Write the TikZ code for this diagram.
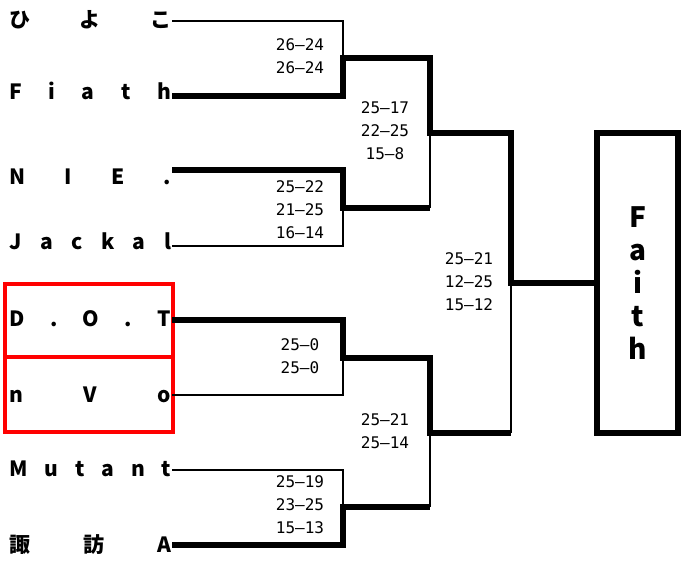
\documentclass[tikz,border=0pt]{standalone}
\usepackage{fontspec}
\newfontfamily\jpfont{Noto Sans CJK JP}
\newfontfamily\scorefont{DejaVu Sans Mono}
\tikzset{
 team/.style={inner sep=0pt, anchor=west, text height=15.4pt, text depth=0pt, font=\jpfont\bfseries\fontsize{21}{24}\selectfont},
 score/.style={inner sep=0pt, align=center, font=\scorefont\fontsize{16}{23}\selectfont},
 thinline/.style={line width=2.2pt},
 thickline/.style={line width=5.5pt},
 hl/.style={draw=red, line width=4pt},
 champbox/.style={draw, line width=6pt, minimum width=81pt, minimum height=300pt, inner sep=0pt, align=center, font=\jpfont\bfseries\fontsize{28}{33}\selectfont}
}
\begin{document}
\begin{tikzpicture}[x=1pt,y=-1pt]
\useasboundingbox (0,0) rectangle (681,562);
% highlight boxes
\draw[hl] (5,284) rectangle (173,357);
\draw[hl] (5,357) rectangle (173,432);
% teams
\node[team] (t1) at (9,20) {\makebox[162pt][s]{ひ\hfill よ\hfill こ}};
\node[team] (t2) at (9,92) {\makebox[162pt][s]{F\hfill i\hfill a\hfill t\hfill h}};
\node[team] (t3) at (9,177) {\makebox[162pt][s]{N\hfill I\hfill E\hfill .}};
\node[team] (t4) at (9,242) {\makebox[162pt][s]{J\hfill a\hfill c\hfill k\hfill a\hfill l}};
\node[team] (t5) at (9,319) {\makebox[162pt][s]{D\hfill .\hfill O\hfill .\hfill T}};
\node[team] (t6) at (9,395) {\makebox[162pt][s]{n\hfill V\hfill o}};
\node[team] (t7) at (9,469) {\makebox[162pt][s]{M\hfill u\hfill t\hfill a\hfill n\hfill t}};
\node[team] (t8) at (9,545) {\makebox[162pt][s]{諏\hfill 訪\hfill A}};
% junctions
\coordinate (j1) at (343,58);
\coordinate (j2) at (343,208);
\coordinate (j3) at (343,358);
\coordinate (j4) at (343,507);
\coordinate (s1) at (430,133);
\coordinate (s2) at (430,433);
\coordinate (f) at (511,283);
% champion
\node[champbox] (champ) at (637.5,283) {F\\a\\i\\t\\h};
% thin (losing) lines
\draw[thinline] ([xshift=1pt,yshift=-1pt]t1.east) -| (j1);
\draw[thinline] ([xshift=1pt,yshift=-4pt]t4.east) -| (j2);
\draw[thinline] ([xshift=1pt]t6.east) -| (j3);
\draw[thinline] ([xshift=1pt,yshift=-1pt]t7.east) -| (j4);
\draw[thinline] (j2 -| s1) -- (s1);
\draw[thinline] (j4 -| s2) -- (s2);
\draw[thinline] (s2 -| f) -- (f);
% thick (winning) lines
\draw[thickline] ([xshift=1pt,yshift=-4pt]t2.east) -| (j1) -| (s1) -| (f) -- (champ.west);
\draw[thickline] ([xshift=1pt,yshift=7pt]t3.east) -| (j2) -- (j2 -| s1);
\draw[thickline] ([xshift=1pt,yshift=-1pt]t5.east) -| (j3) -| (s2) -- (s2 -| f);
\draw[thickline] ([xshift=1pt]t8.east) -| (j4) -- (j4 -| s2);
% scores
\node[score] (sc1) at (300,56.5) {26–24\\26–24};
\node[score] (sc2) at (300,210) {25–22\\21–25\\16–14};
\node[score] (sc3) at (385,131) {25–17\\22–25\\15–8};
\node[score] (sc4) at (300,356.5) {25–0\\25–0};
\node[score] (sc5) at (300,505) {25–19\\23–25\\15–13};
\node[score] (sc6) at (385,431.5) {25–21\\25–14};
\node[score] (sc7) at (469,282) {25–21\\12–25\\15–12};
\end{tikzpicture}
\end{document}
